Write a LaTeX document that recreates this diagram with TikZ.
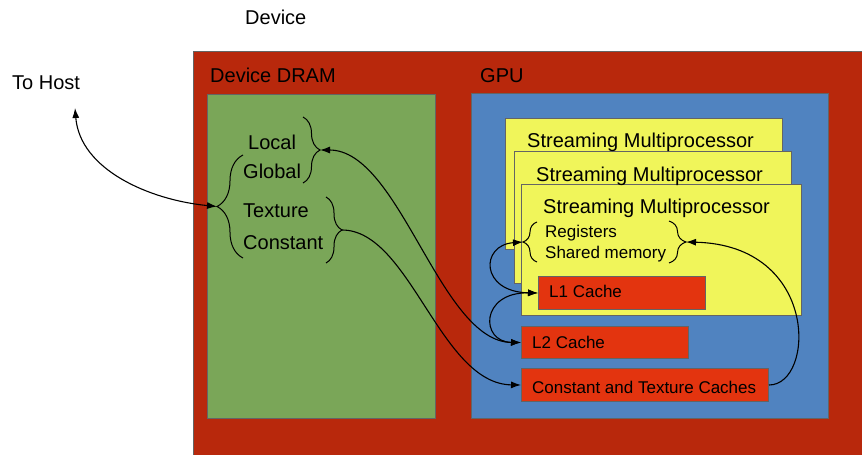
\documentclass[tikz,border=0pt]{standalone}
\usepackage{fontspec}
\setmainfont{Liberation Sans}
\usetikzlibrary{arrows.meta,decorations.pathreplacing}

\definecolor{devred}{RGB}{184,40,12}
\definecolor{dramgreen}{RGB}{122,166,88}
\definecolor{gpublue}{RGB}{80,131,192}
\definecolor{smyellow}{RGB}{240,245,90}
\definecolor{cachered}{RGB}{227,52,15}
\definecolor{edgegray}{RGB}{100,100,100}

\tikzset{
  box/.style={draw=edgegray, line width=1pt, inner sep=0pt, anchor=north west},
  big/.style={anchor=base west, inner sep=0pt, font=\fontsize{20}{24}\selectfont},
  small/.style={anchor=base west, inner sep=0pt, font=\fontsize{17}{20}\selectfont},
  curly/.style={draw=black, line width=1pt, decorate},
  link/.style={draw=black, line width=1.1pt},
  headtip/.tip={Latex[length=10pt,width=7pt]},
}

\begin{document}
\begin{tikzpicture}[x=1pt, y=-1pt]
\useasboundingbox (0,0) rectangle (862,455);
\fill[white] (0,0) rectangle (862,455);

\begin{scope}
\clip (0,0) rectangle (862,455);
% device outline (runs past the right and bottom edges)
\node[box, fill=devred, minimum width=690pt, minimum height=420pt] (device) at (193,51) {};
\end{scope}

% memory and GPU regions
\node[box, fill=dramgreen, minimum width=228pt, minimum height=324pt] (dram) at (207,94) {};
\node[box, fill=gpublue, minimum width=357pt, minimum height=325pt] (gpu) at (471,93) {};

% stacked streaming multiprocessors
\node[box, fill=smyellow, minimum width=277pt, minimum height=131pt] (sma) at (505,118) {};
\node[box, fill=smyellow, minimum width=277pt, minimum height=132pt] (smb) at (514,151) {};
\node[box, fill=smyellow, minimum width=280pt, minimum height=131pt] (smc) at (521,184) {};

% caches
\node[box, fill=cachered, minimum width=167pt, minimum height=33pt] (lone) at (538,276) {};
\node[box, fill=cachered, minimum width=167pt, minimum height=32pt] (ltwo) at (521,326) {};
\node[box, fill=cachered, minimum width=247pt, minimum height=33pt] (ctc) at (521,368) {};

% labels
\node[big] (devlbl) at (245,24) {Device};
\node[big] (hostlbl) at (12,89) {To Host};
\node[big] (dramlbl) at (210,82) {Device DRAM};
\node[big] (gpulbl) at (480,82) {GPU};
\node[big] (locallbl) at (248,149) {Local};
\node[big] (globallbl) at (243,178) {Global};
\node[big] (texlbl) at (243,217) {Texture};
\node[big] (constlbl) at (243,249) {Constant};
\node[big] (smalbl) at (527,147) {Streaming Multiprocessor};
\node[big] (smblbl) at (536,181) {Streaming Multiprocessor};
\node[big] (smclbl) at (543,213) {Streaming Multiprocessor};
\node[small] (reglbl) at (545,237) {Registers};
\node[small] (shmlbl) at (545,258) {Shared memory};
\node[small] (lonelbl) at (549,297) {L1 Cache};
\node[small] (ltwolbl) at (532,348) {L2 Cache};
\node[small] (ctclbl) at (532,393) {Constant and Texture Caches};

% braces grouping the memory spaces
\draw[curly, decoration={brace, amplitude=17pt}] (303,117) -- (303,183);
\draw[curly, decoration={brace, amplitude=26pt}] (243,258) -- (243,155);
\draw[curly, decoration={brace, amplitude=16pt}] (326,197) -- (326,263);
\draw[curly, decoration={brace, amplitude=14pt}] (537,262) -- (537,222);
\draw[curly, decoration={brace, amplitude=17pt}] (669,221) -- (669,263);

% brace tips and the host end
\coordinate (lgtip) at (320,150);
\coordinate (alltip) at (217,206.5);
\coordinate (tctip) at (342,230);
\coordinate (regtip) at (523,242);
\coordinate (shmtip) at (686,242);
\coordinate (host) at (75,108);

% data paths
\draw[link, headtip-headtip] (host) .. controls (80,170) and (150,200) .. (alltip);
\draw[link, headtip-headtip] (lgtip) .. controls (400,150) and (440,342) .. (ltwo.west);
\draw[link, -headtip] (tctip) .. controls (410,230) and (440,384) .. (ctc.west);
\draw[link, headtip-headtip] (regtip) .. controls (480,245) and (480,292) .. (lone.west);
\draw[link, headtip-headtip] (lone.west) .. controls (480,292) and (480,342) .. (ltwo.west);
\draw[link, -headtip] (ctc.east) .. controls (815,385) and (820,245) .. (shmtip);
\end{tikzpicture}
\end{document}
